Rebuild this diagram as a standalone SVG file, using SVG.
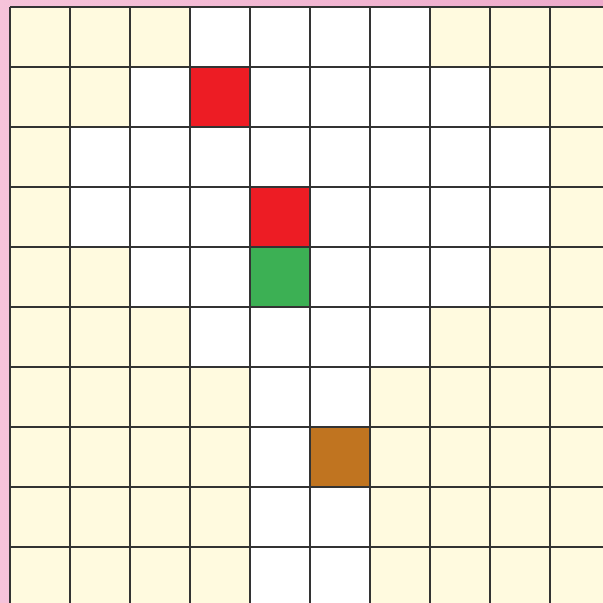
<svg xmlns="http://www.w3.org/2000/svg" width="603" height="603" viewBox="0 0 603 603">
<defs>
<linearGradient id="bg" x1="0" y1="0" x2="1" y2="0">
<stop offset="0" stop-color="#f6c3da"/>
<stop offset="1" stop-color="#eeaacb"/>
</linearGradient>
<style>
.y{fill:#fffadf}
.w{fill:#ffffff}
.r{fill:#ed1c24}
.g{fill:#3cb054}
.b{fill:#c07420}
.grid{stroke:#333333;stroke-width:2;fill:none}
</style>
</defs>
<rect x="0" y="0" width="603" height="603" fill="url(#bg)"/>
<g id="cells">
<!-- row 0 -->
<rect class="y" x="10" y="7" width="180" height="60"/>
<rect class="w" x="190" y="7" width="240" height="60"/>
<rect class="y" x="430" y="7" width="180" height="60"/>
<!-- row 1 -->
<rect class="y" x="10" y="67" width="120" height="60"/>
<rect class="w" x="130" y="67" width="360" height="60"/>
<rect class="y" x="490" y="67" width="120" height="60"/>
<!-- row 2 -->
<rect class="y" x="10" y="127" width="60" height="60"/>
<rect class="w" x="70" y="127" width="480" height="60"/>
<rect class="y" x="550" y="127" width="60" height="60"/>
<!-- row 3 -->
<rect class="y" x="10" y="187" width="60" height="60"/>
<rect class="w" x="70" y="187" width="480" height="60"/>
<rect class="y" x="550" y="187" width="60" height="60"/>
<!-- row 4 -->
<rect class="y" x="10" y="247" width="120" height="60"/>
<rect class="w" x="130" y="247" width="360" height="60"/>
<rect class="y" x="490" y="247" width="120" height="60"/>
<!-- row 5 -->
<rect class="y" x="10" y="307" width="180" height="60"/>
<rect class="w" x="190" y="307" width="240" height="60"/>
<rect class="y" x="430" y="307" width="180" height="60"/>
<!-- rows 6-9 -->
<rect class="y" x="10" y="367" width="240" height="240"/>
<rect class="w" x="250" y="367" width="120" height="240"/>
<rect class="y" x="370" y="367" width="240" height="240"/>
</g>
<g id="marked">
<rect id="red1" class="r" x="190" y="67" width="60" height="60"/>
<rect id="red2" class="r" x="250" y="187" width="60" height="60"/>
<rect id="green" class="g" x="250" y="247" width="60" height="60"/>
<rect id="brown" class="b" x="310" y="427" width="60" height="60"/>
</g>
<g id="gridlines" class="grid">
<path d="M10 7V610M70 7V610M130 7V610M190 7V610M250 7V610M310 7V610M370 7V610M430 7V610M490 7V610M550 7V610"/>
<path d="M10 7H610M10 67H610M10 127H610M10 187H610M10 247H610M10 307H610M10 367H610M10 427H610M10 487H610M10 547H610"/>
</g>
</svg>
